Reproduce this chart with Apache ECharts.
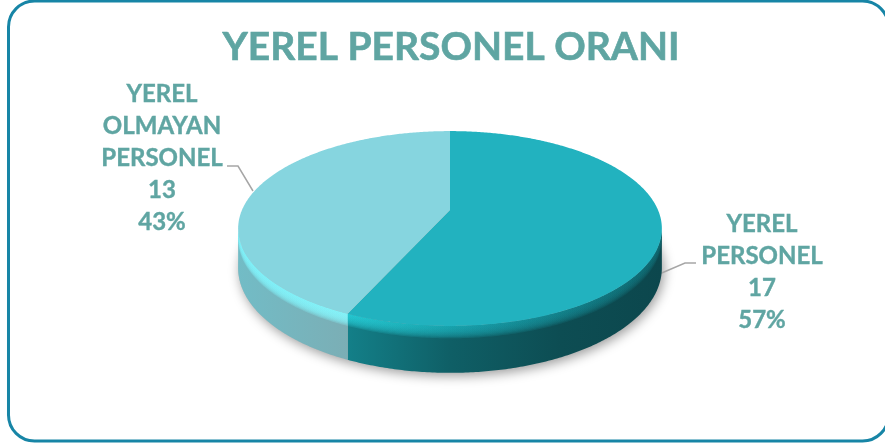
<!DOCTYPE html>
<html>
<head>
<meta charset="utf-8">
<style>
  html, body { margin: 0; padding: 0; background: #fff; }
  #main { width: 885px; height: 445px; }
</style>
<script src="https://cdn.jsdelivr.net/npm/echarts@6/dist/echarts.min.js"></script>
</head>
<body>
<div id="main"></div>
<script>
  const titleText = 'YEREL PERSONEL ORANI';
  const categories = ['YEREL\nPERSONEL', 'YEREL\nOLMAYAN\nPERSONEL'];
  const values = [17, 13];

  const textColor = '#5fa5a2';
  const fontFamily = 'Lato, "Open Sans", sans-serif';

  // perspective disc: apex of the slices and how the circle is tilted
  const cx = 450, apexY = 210, radius = 208, tiltA = 54, tiltC = -0.19, depth = 38;
  const topColors = ['#22b2bf', '#86d5df'];
  const wallStops = [
    [[349, '#137f88'], [450, '#0f5f66'], [560, '#0d4d53'], [662, '#0c474d']],
    [[238, '#72bcc6'], [349, '#7baeb5']]
  ];
  const rimStops = [
    [[349, '#26ccd6'], [450, '#1aa8b3'], [560, '#148690'], [662, '#106a72']],
    [[238, '#7ff0f8'], [349, '#86f2f8']]
  ];
  const rimOpacity = [0.22, 0.3];
  // bevel layers, pushed down from the top surface
  const rimOffsets = [10, 9, 8, 7, 6, 5, 4, 3, 2, 1];
  // label boxes and leader elbows
  const labelPos = [{ x: 762, y: 208 }, { x: 162, y: 78 }];
  const leaders = [
    [[657, 275], [685, 263], [696, 263]],
    [[253, 191], [238, 166], [227, 166]]
  ];

  const total = values.reduce((a, b) => a + b, 0);

  // angle in radians from top, clockwise -> screen position
  function project(a, s) {
    const u = Math.sin(a), v = -Math.cos(a);
    const w = 1 + tiltC * v;
    return [cx + (radius * u) / w, (tiltA * v + apexY) / w + (s || 0) / w];
  }
  function projectApex(s) {
    return [cx, apexY + (s || 0)];
  }
  function arc(a0, a1, s) {
    const pts = [];
    const n = Math.max(2, Math.ceil((a1 - a0) / 0.01));
    for (let i = 0; i <= n; i++) pts.push(project(a0 + ((a1 - a0) * i) / n, s));
    return pts;
  }
  function sliceRange(i) {
    let before = 0;
    for (let k = 0; k < i; k++) before += values[k];
    return [(before / total) * Math.PI * 2, ((before + values[i]) / total) * Math.PI * 2];
  }
  function xGradient(stops) {
    const x0 = stops[0][0], x1 = stops[stops.length - 1][0];
    return new echarts.graphic.LinearGradient(
      x0, 0, x1, 0,
      stops.map((s) => ({ offset: (s[0] - x0) / (x1 - x0), color: s[1] })),
      true
    );
  }

  function renderSlice(params, api) {
    const i = params.dataIndex;
    const value = api.value(0);
    const range = sliceRange(i);
    const children = [];

    if (i === 0) {
      // soft shadow under the whole disc
      children.push({
        type: 'polygon',
        z2: 0,
        shape: { points: arc(0, Math.PI * 2, depth) },
        style: { fill: '#bbb', shadowBlur: 12, shadowColor: 'rgba(0,0,0,0.4)', shadowOffsetX: 2, shadowOffsetY: 3 }
      });
    }

    // side wall, only the part facing us
    const frontStart = Math.acos(tiltC);
    const frontEnd = Math.PI * 2 - frontStart;
    const a0 = Math.max(range[0], frontStart);
    const a1 = Math.min(range[1], frontEnd);
    if (a1 > a0) {
      children.push({
        type: 'polygon',
        z2: 1,
        shape: { points: arc(a0, a1, 0).concat(arc(a0, a1, depth).reverse()) },
        style: { fill: xGradient(wallStops[i]) }
      });
    }

    // bevel between top and wall, only over the wall so it can't touch the other slice's top
    if (a1 > a0) {
      rimOffsets.forEach((s, k) => {
        children.push({
          type: 'polygon',
          z2: 2 + k,
          shape: { points: arc(a0, a1, 0).concat(arc(a0, a1, s).reverse()) },
          style: { fill: xGradient(rimStops[i]), opacity: rimOpacity[i] }
        });
      });
    }

    // flat top
    children.push({
      type: 'polygon',
      z2: 20,
      shape: { points: [projectApex(0)].concat(arc(range[0], range[1], 0)) },
      style: { fill: topColors[i] }
    });

    // leader and label
    children.push({
      type: 'polyline',
      z2: i === 0 ? 0 : 25,
      shape: { points: leaders[i] },
      style: { stroke: '#a6a6a6', lineWidth: 1.5, fill: null }
    });
    children.push({
      type: 'text',
      z2: 30,
      style: {
        x: labelPos[i].x,
        y: labelPos[i].y,
        text: categories[i] + '\n' + value + '\n' + Math.round((value / total) * 100) + '%',
        fill: textColor,
        font: 'bold 24px ' + fontFamily,
        lineHeight: 32,
        align: 'center',
        verticalAlign: 'top',
        stroke: textColor,
        lineWidth: 0.4
      }
    });
    return { type: 'group', children: children };
  }

  const chart = echarts.init(document.getElementById('main'), null, { renderer: 'canvas' });
  chart.setOption({
    animation: false,
    backgroundColor: '#fff',
    title: {
      text: titleText,
      left: 446,
      top: 23,
      textAlign: 'center',
      textStyle: {
        color: textColor,
        fontSize: 39,
        fontWeight: 'bold',
        fontFamily: fontFamily,
        textBorderColor: textColor,
        textBorderWidth: 0.6
      }
    },
    graphic: [
      {
        type: 'rect',
        shape: { x: 8.5, y: 1, width: 880, height: 440, r: 26 },
        style: { fill: null, stroke: '#1785a6', lineWidth: 3 },
        silent: true
      }
    ],
    series: [
      {
        type: 'custom',
        coordinateSystem: 'none',
        silent: true,
        renderItem: renderSlice,
        data: values.map((v) => [v])
      }
    ]
  });
</script>
</body>
</html>
